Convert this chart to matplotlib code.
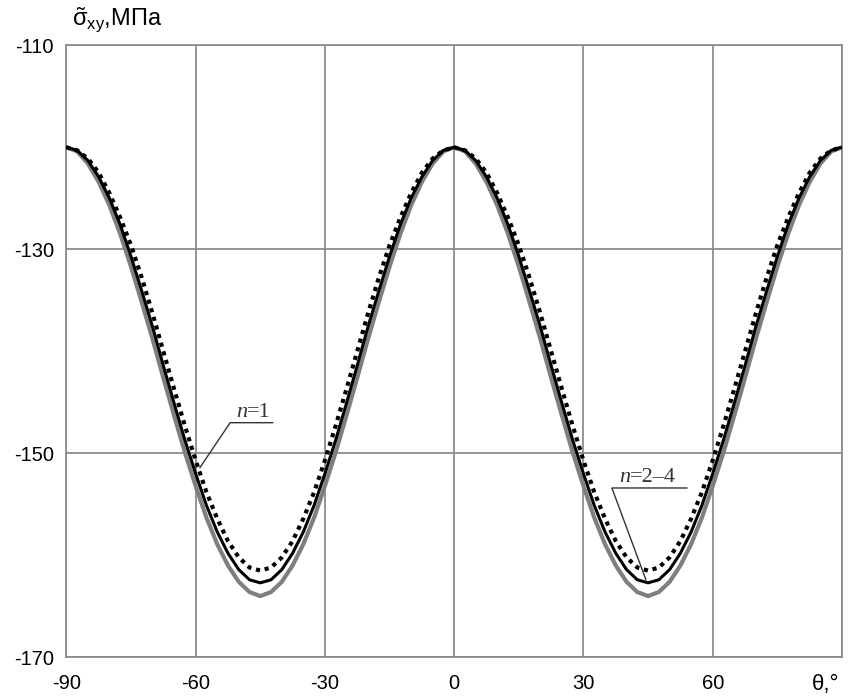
import numpy as np
from matplotlib import pyplot as plt

plt.rcParams['font.family'] = ['Liberation Sans', 'DejaVu Sans']
plt.rcParams['mathtext.fontset'] = 'custom'
plt.rcParams['mathtext.rm'] = 'Liberation Sans'
plt.rcParams['mathtext.it'] = 'Liberation Sans:italic'
plt.rcParams['axes.unicode_minus'] = False

# angle, degrees (step 2.5)
theta = np.linspace(-90, 90, 73)

# shear stress, MPa
sigma_gray = [
    -120.0, -120.4, -121.6, -123.4, -125.7, -128.5, -131.7, -135.2, -138.8, -142.6,
    -146.3, -149.9, -153.2, -156.3, -158.9, -161.0, -162.6, -163.6, -164.0,
    -163.6, -162.6, -161.0, -158.9, -156.3, -153.2, -149.9, -146.3, -142.6,
    -138.8, -135.2, -131.7, -128.5, -125.7, -123.4, -121.6, -120.4, -120.0,
    -120.4, -121.6, -123.4, -125.7, -128.5, -131.7, -135.2, -138.8, -142.6,
    -146.3, -149.9, -153.2, -156.3, -158.9, -161.0, -162.6, -163.6, -164.0,
    -163.6, -162.6, -161.0, -158.9, -156.3, -153.2, -149.9, -146.3, -142.6,
    -138.8, -135.2, -131.7, -128.5, -125.7, -123.4, -121.6, -120.4, -120.0]
sigma_black = [
    -120.0, -120.3, -121.3, -122.9, -125.0, -127.6, -130.7, -134.1, -137.6, -141.4,
    -145.1, -148.7, -152.0, -155.1, -157.7, -159.8, -161.4, -162.4, -162.7,
    -162.4, -161.4, -159.8, -157.7, -155.1, -152.0, -148.7, -145.1, -141.4,
    -137.6, -134.1, -130.7, -127.6, -125.0, -122.9, -121.3, -120.3, -120.0,
    -120.3, -121.3, -122.9, -125.0, -127.6, -130.7, -134.1, -137.6, -141.4,
    -145.1, -148.7, -152.0, -155.1, -157.7, -159.8, -161.4, -162.4, -162.7,
    -162.4, -161.4, -159.8, -157.7, -155.1, -152.0, -148.7, -145.1, -141.4,
    -137.6, -134.1, -130.7, -127.6, -125.0, -122.9, -121.3, -120.3, -120.0]
sigma_n1 = [
    -120.0, -120.3, -121.1, -122.5, -124.5, -126.9, -129.6, -132.8, -136.3, -140.0,
    -143.7, -147.3, -150.7, -153.8, -156.4, -158.6, -160.2, -161.2, -161.5,
    -161.2, -160.2, -158.6, -156.4, -153.8, -150.7, -147.3, -143.7, -140.0,
    -136.3, -132.8, -129.6, -126.9, -124.5, -122.5, -121.1, -120.3, -120.0,
    -120.3, -121.1, -122.5, -124.5, -126.9, -129.6, -132.8, -136.3, -140.0,
    -143.7, -147.3, -150.7, -153.8, -156.4, -158.6, -160.2, -161.2, -161.5,
    -161.2, -160.2, -158.6, -156.4, -153.8, -150.7, -147.3, -143.7, -140.0,
    -136.3, -132.8, -129.6, -126.9, -124.5, -122.5, -121.1, -120.3, -120.0]

xticks = [-90, -60, -30, 0, 30, 60]
yticks = [-170, -150, -130, -110]

fig = plt.figure(figsize=(8.51, 7.0), dpi=100)
ax = fig.add_axes([0.078, 0.061, 0.9114, 0.8743])

grid_col = '#8c8c8c'
ax.plot(theta, sigma_gray, color='#7f7f7f', lw=3.0, zorder=3)
ax.plot(theta, sigma_black, color='black', lw=2.2, zorder=4)
ax.plot(theta, sigma_n1, color='black', lw=3.0, linestyle=(0, (1.0, 1.15)), zorder=5)

ax.set_xlim(-90, 90)
ax.set_ylim(-170, -110)
ax.set_xticks(xticks + [90])
ax.set_xticklabels([str(v) for v in xticks] + [''])
ax.set_yticks(yticks)
ax.set_yticklabels([str(v) for v in yticks])
ax.tick_params(length=0, labelsize=14.5, colors='black')
ax.tick_params(axis='x', pad=12)
ax.tick_params(axis='y', pad=9)
ax.grid(True, color=grid_col, lw=1.3)
for s in ax.spines.values():
    s.set_color(grid_col)
    s.set_linewidth(1.3)

# axis captions
fig.text(0.0846, 0.950, r'$\tilde{\mathrm{\sigma}}_{\mathrm{xy}}$,МПа', fontsize=17, ha='left', va='bottom')
ax.text(0.979, -0.044, 'θ,°', transform=ax.transAxes, fontsize=16, ha='center', va='center')

# curve labels with leaders
lab_col = '#333333'
serif = 'Liberation Serif'
ax.plot([-42.1, -52.0, -59.0], [-147.0, -147.0, -151.4], color=lab_col, lw=1.0, zorder=6)
ax.text(-50.6, -146.4, 'n', fontsize=16, family=serif, style='italic', color=lab_col, ha='left', va='baseline')
ax.annotate('=1', xy=(-50.6, -146.4), xytext=(8.0, 0), textcoords='offset points',
            fontsize=16, family=serif, color=lab_col, ha='left', va='baseline')
ax.plot([54.0, 36.6, 44.5], [-153.4, -153.4, -162.4], color=lab_col, lw=1.0, zorder=6)
ax.text(38.2, -152.8, 'n', fontsize=16, family=serif, style='italic', color=lab_col, ha='left', va='baseline')
ax.annotate('=2–4', xy=(38.2, -152.8), xytext=(8.0, 0), textcoords='offset points',
            fontsize=16, family=serif, color=lab_col, ha='left', va='baseline')

fig.savefig('out.png', dpi=100)
